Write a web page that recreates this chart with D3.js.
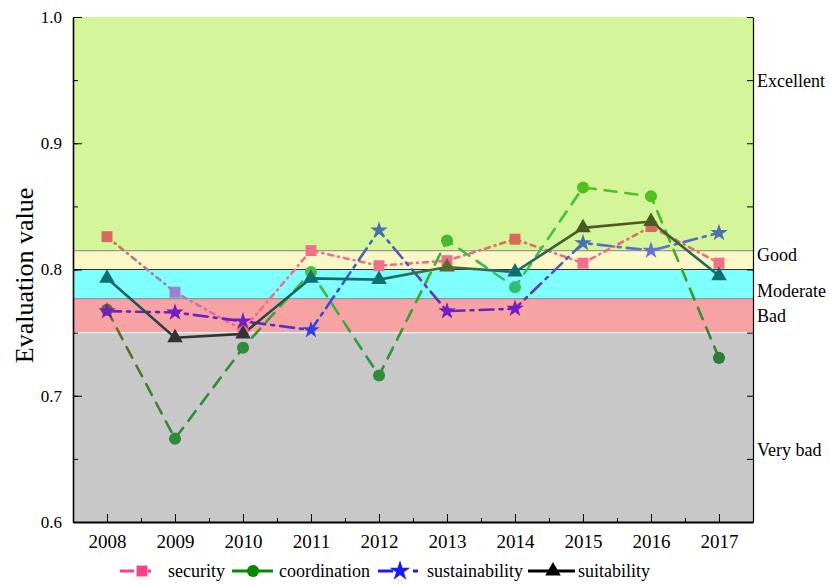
<!DOCTYPE html>
<html><head><meta charset="utf-8">
<script src="https://cdn.jsdelivr.net/npm/d3@7"></script>
<style>body{margin:0;background:#fff}svg{display:block}text{font-family:"Liberation Serif","Times New Roman",serif}</style>
</head><body><svg id="c" width="829" height="584"></svg>
<script>
const years = [2008,2009,2010,2011,2012,2013,2014,2015,2016,2017];
const security       = [0.826,0.782,0.752,0.815,0.803,0.807,0.824,0.805,0.834,0.805];
const coordination   = [0.768,0.666,0.738,0.798,0.716,0.823,0.786,0.865,0.858,0.730];
const sustainability = [0.767,0.766,0.759,0.752,0.831,0.767,0.769,0.821,0.815,0.829];
const suitability    = [0.793,0.746,0.749,0.793,0.792,0.802,0.798,0.833,0.838,0.795];
const seriesNames = ["security","coordination","sustainability","suitability"];
const bandNames  = ["Very bad","Bad","Moderate","Good","Excellent"];
const bandEdges  = [0.6,0.75,0.777,0.8,0.815,1.0];
const yTicks = [0.6,0.7,0.8,0.9,1.0];

// styles
const bandColors = ["#c8c8c8","#f8a3a3","#80ffff","#fbf8c8","#d4f59a"];
const legendColors = ["#ff3f8a","#008a00","#1a1aff","#000000"];
const pointColors = [
  ["#d9695a","#9b7fd0","#f06a8a","#f0708a","#f0708a","#f0708a","#d96a5a","#f0708a","#d96a5a","#f0708a"],
  ["#6b6b20","#2e8b3a","#2e8b3a","#48c048","#2e8b3a","#48b830","#30c070","#50c020","#50c020","#2e7d3a"],
  ["#7020c0","#7020c0","#7020c0","#3040e0","#4a70b0","#7020c0","#7020c0","#4a70b0","#6a70d0","#4a70b0"],
  ["#107070","#333333","#333333","#107070","#107070","#556b2f","#107070","#4a5a20","#4a5a20","#107070"]
];
const dashes = ["5,5,1,5","12,9","14,6,3,6",null];
const shapes = [d3.symbolSquare,d3.symbolCircle,d3.symbolStar,d3.symbolTriangle];
const sizes = [120,115,95,105];

const data = [security,coordination,sustainability,suitability];
const svg = d3.select("#c");
const L=73,R=753,T=17,B=522;
const x = d3.scaleLinear().domain([2007.5,2017.5]).range([L,R]);
const y = d3.scaleLinear().domain([0.6,1.0]).range([B,T]);

// bands
bandNames.forEach((n,i)=>{
  svg.append("rect").attr("x",L).attr("width",R-L)
    .attr("y",y(bandEdges[i+1])).attr("height",y(bandEdges[i])-y(bandEdges[i+1]))
    .attr("fill",bandColors[i]);
});
const sepColors = [null,"#f4f4f4","#8a9a9a","#333333","#999999"];
for(let i=1;i<5;i++){
  svg.append("line").attr("x1",L).attr("x2",R).attr("y1",y(bandEdges[i])).attr("y2",y(bandEdges[i]))
    .attr("stroke",sepColors[i]).attr("stroke-width",1.2);
}
// band labels (baseline values)
const labelBase = [0.652,0.7585,0.778,0.8065,0.9445];
bandNames.forEach((n,i)=>{
  svg.append("text").attr("x",757).attr("y",y(labelBase[i]))
    .attr("font-size",18).text(n);
});

// axes
const minorY = d3.range(0,9).map(i=>0.6+i*0.05);
svg.append("g").attr("transform",`translate(${L},0)`)
  .call(d3.axisLeft(y).tickValues(minorY).tickSize(-5).tickFormat(""))
  .call(g=>g.select(".domain").remove());
svg.append("g").attr("transform",`translate(${L},0)`)
  .call(d3.axisLeft(y).tickValues(yTicks).tickSizeInner(-9).tickSizeOuter(0).tickPadding(11).tickFormat(d3.format(".1f")))
  .call(g=>g.selectAll("text").attr("font-size",17).attr("font-family","Liberation Serif"))
  .call(g=>g.select(".domain").attr("stroke-width",1.6));
svg.append("g").attr("transform",`translate(${R},0)`)
  .call(d3.axisRight(y).tickValues(minorY).tickSizeInner(-6).tickSizeOuter(0).tickFormat(""))
  .call(g=>g.select(".domain").attr("stroke-width",1.2));
const minorX = d3.range(2007.5,2017.6,1);
svg.append("g").attr("transform",`translate(0,${B})`)
  .call(d3.axisBottom(x).tickValues(minorX).tickSize(-4).tickFormat(""))
  .call(g=>g.select(".domain").remove());
svg.append("g").attr("transform",`translate(0,${B})`)
  .call(d3.axisBottom(x).tickValues(years).tickSizeInner(-8).tickSizeOuter(0).tickPadding(13).tickFormat(d3.format("d")))
  .call(g=>g.selectAll("text").attr("font-size",19).attr("font-family","Liberation Serif"))
  .call(g=>g.select(".domain").attr("stroke-width",2.2));

svg.append("text").attr("transform",`translate(33,${(T+B)/2+6}) rotate(-90)`)
  .attr("text-anchor","middle").attr("font-size",26).text("Evaluation value");

// gradients & lines
const defs = svg.append("defs");
data.forEach((vals,si)=>{
  const gid="g"+si;
  const gr = defs.append("linearGradient").attr("id",gid).attr("gradientUnits","userSpaceOnUse")
    .attr("x1",x(years[0])).attr("x2",x(years[years.length-1])).attr("y1",0).attr("y2",0);
  pointColors[si].forEach((c,i)=>gr.append("stop").attr("offset",i/(years.length-1)).attr("stop-color",c));
  const line = d3.line().x((d,i)=>x(years[i])).y(d=>y(d));
  svg.append("path").datum(vals).attr("d",line).attr("fill","none")
    .attr("stroke",`url(#${gid})`).attr("stroke-width",2.6)
    .attr("stroke-dasharray",dashes[si]).attr("stroke-linecap","round");
});
data.forEach((vals,si)=>{
  svg.append("g").selectAll("path").data(vals).join("path")
    .attr("transform",(d,i)=>`translate(${x(years[i])},${y(d)})`)
    .attr("d",d3.symbol().type(shapes[si]).size(sizes[si]))
    .attr("fill",(d,i)=>pointColors[si][i]);
});

// legend
const lg = svg.append("g").attr("transform","translate(0,571)");
const legendItems = [
  {x1:120,x2:160,m:142,t:168,dash:"14,14,3,20"},
  {x1:232,x2:273,m:253,t:279,dash:null},
  {x1:378,x2:421,m:400,t:427,dash:"15,20,5,20"},
  {x1:528,x2:575,m:553,t:578,dash:null}
];
seriesNames.forEach((n,i)=>{
  const it = legendItems[i];
  lg.append("line").attr("x1",it.x1).attr("x2",it.x2).attr("y1",0).attr("y2",0)
    .attr("stroke",legendColors[i]).attr("stroke-width",2.8).attr("stroke-dasharray",it.dash);
  lg.append("path").attr("transform",`translate(${it.m},0)`)
    .attr("d",d3.symbol().type(shapes[i]).size(i===2?130:sizes[i])).attr("fill",legendColors[i]);
  lg.append("text").attr("x",it.t).attr("y",0).attr("dy","0.33em").attr("font-size",18).text(n);
});
</script></body></html>
